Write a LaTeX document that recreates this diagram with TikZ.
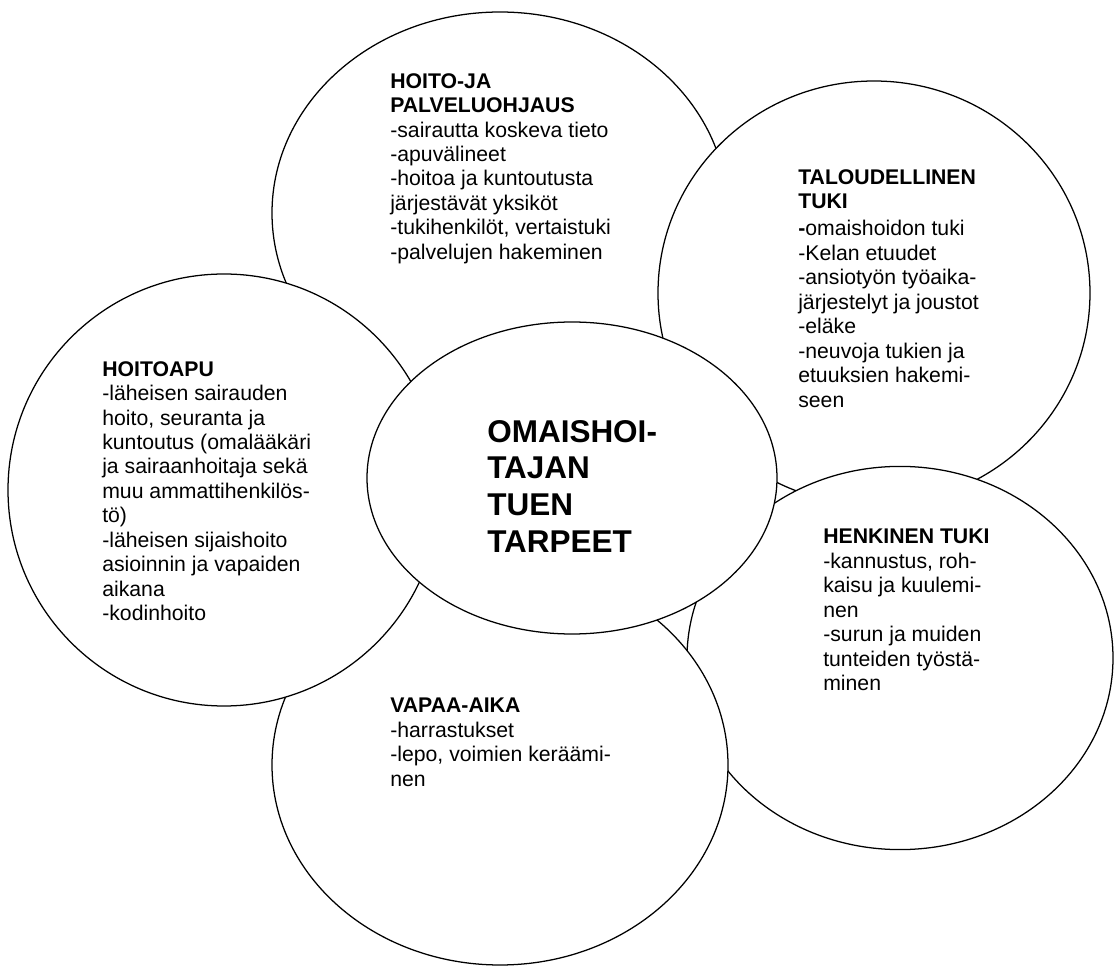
\documentclass[tikz,border=0pt]{standalone}
\usepackage{fontspec}
\setmainfont{Liberation Sans}
\usepackage{tikz}
\usetikzlibrary{shapes.geometric}

\begin{document}
\begin{tikzpicture}[
  bubble/.style={draw, ellipse, fill=white, line width=0.9pt, inner sep=0pt},
  txt/.style={anchor=north west, align=left, inner sep=0pt, font=\fontsize{15.1}{17.4}\selectfont},
  core/.style={anchor=north west, align=left, inner sep=0pt, font=\fontsize{22.4}{26.1}\selectfont\bfseries},
]
  \path[use as bounding box, fill=white] (0,0) rectangle (27.9,24.175);

  % Hoito- ja palveluohjaus
  \node[bubble, minimum width=114mm, minimum height=100.5mm] (ohjaus) at (12.5,18.85) {};
  \node[txt] (ohjaustxt) at (9.75,22.35) {\textbf{HOITO-JA}\\
    \textbf{PALVELUOHJAUS}\\
    -sairautta koskeva tieto\\
    -apuvälineet\\
    -hoitoa ja kuntoutusta\\
    järjestävät yksiköt\\
    -tukihenkilöt, vertaistuki\\
    -palvelujen hakeminen};

  % Taloudellinen tuki
  \node[bubble, minimum width=108mm, minimum height=106mm] (talous) at (21.85,16.85) {};
  \node[txt] (taloustxt) at (19.95,19.95) {\textbf{TALOUDELLINEN}\\
    \textbf{TUKI}\\[2pt]
    \textbf{-}omaishoidon tuki\\
    -Kelan etuudet\\
    -ansiotyön työaika-\\
    järjestelyt ja joustot\\
    -eläke\\
    -neuvoja tukien ja\\
    etuuksien hakemi-\\
    seen};

  % Henkinen tuki
  \node[bubble, minimum width=106.5mm, minimum height=95.8mm] (henki) at (22.5,7.725) {};
  \node[txt] (henkitxt) at (20.575,10.95) {\textbf{HENKINEN TUKI}\\
    -kannustus, roh-\\
    kaisu ja kuulemi-\\
    nen\\
    -surun ja muiden\\
    tunteiden työstä-\\
    minen};

  % Vapaa-aika
  \node[bubble, minimum width=114mm, minimum height=100mm] (vapaa) at (12.5,5.05) {};
  \node[txt] (vapaatxt) at (9.75,6.725) {\textbf{VAPAA-AIKA}\\
    -harrastukset\\
    -lepo, voimien keräämi-\\
    nen};

  % Hoitoapu
  \node[bubble, minimum width=108mm, minimum height=108mm] (apu) at (5.6,11.925) {};
  \node[txt] (aputxt) at (2.55,15.15) {\textbf{HOITOAPU}\\
    -läheisen sairauden\\
    hoito, seuranta ja\\
    kuntoutus (omalääkäri\\
    ja sairaanhoitaja sekä\\
    muu ammattihenkilös-\\
    tö)\\
    -läheisen sijaishoito\\
    asioinnin ja vapaiden\\
    aikana\\
    -kodinhoito};

  % Keskus
  \node[bubble, minimum width=102.5mm, minimum height=78mm] (keskus) at (14.3,12.225) {};
  \node[core] (keskustxt) at (12.175,13.675) {OMAISHOI-\\
    TAJAN\\
    TUEN\\
    TARPEET};
\end{tikzpicture}
\end{document}
